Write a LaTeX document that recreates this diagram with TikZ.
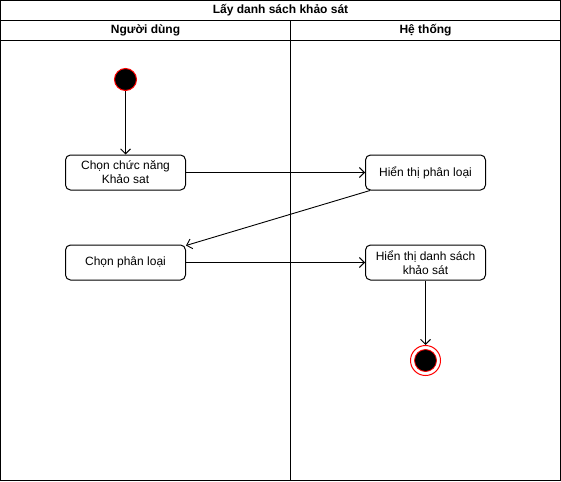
\documentclass[tikz,border=0pt]{standalone}
\usepackage{fontspec}
\setmainfont{Liberation Sans}
\usetikzlibrary{arrows.meta}
\begin{document}
\begin{tikzpicture}[x=1pt,y=-1pt,
  every node/.style={font=\fontsize{12}{14}\selectfont, inner sep=0pt},
  act/.style={draw=black, line width=1pt, rounded corners=5pt, minimum width=120pt, minimum height=35pt, align=center, fill=white},
  hdr/.style={font=\fontsize{12}{14}\selectfont\bfseries},
  flow/.style={draw=black, line width=0.9pt, -{Straight Barb[length=5pt,width=10pt,line width=0.9pt]}},
  frame/.style={draw=black, line width=1pt}]
\useasboundingbox (0,0) rectangle (561,481);
% frame
\draw[frame] (0.5,0.5) rectangle (560.5,480.5);
\draw[frame] (0.5,20.5) -- (560.5,20.5);
\draw[frame] (0.5,40.5) -- (560.5,40.5);
\draw[frame] (290.5,20.5) -- (290.5,480.5);
\node[hdr] (title) at (280.5,10.5) {Lấy danh sách khảo sát};
\node[hdr] (lane1) at (145.5,30.5) {Người dùng};
\node[hdr] (lane2) at (425.5,30.5) {Hệ thống};
% nodes
\node[circle, draw=red, fill=black, line width=1pt, minimum size=22pt] (start) at (125.5,79.5) {};
\node[act] (a1) at (125.5,172.5) {Chọn chức năng\\Khảo sat};
\node[act] (a2) at (425.5,172.5) {Hiển thị phân loại};
\node[act] (a3) at (125.5,262.5) {Chọn phân loại};
\node[act] (a4) at (425.5,262.5) {Hiển thị danh sách\\khảo sát};
\node[circle, draw=red, fill=white, line width=1pt, minimum size=30pt] (end) at (425.5,360.5) {};
\node[circle, draw=red, fill=black, line width=0.8pt, minimum size=22pt] (endin) at (425.5,360.5) {};
% connectors
\draw[flow] (start) -- (a1);
\draw[flow] (a1) -- (a2);
\draw[flow] ([xshift=5pt]a2.south west) -- ([yshift=-1pt]a3.north east);
\draw[flow] (a3) -- (a4);
\draw[flow] (a4) -- (end);
\end{tikzpicture}
\end{document}
